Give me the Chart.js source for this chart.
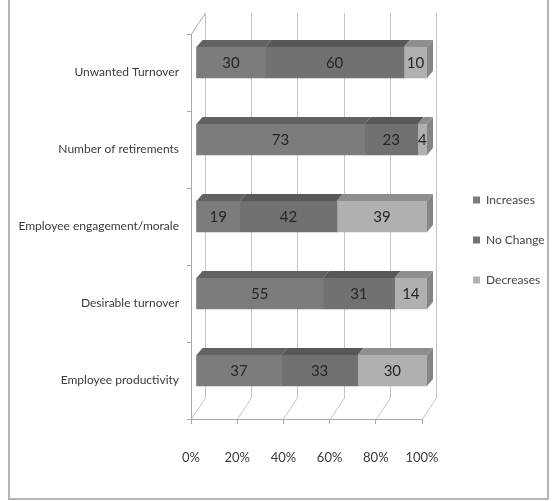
<!DOCTYPE html>
<html>
<head>
<meta charset="utf-8">
<script src="https://cdn.jsdelivr.net/npm/chart.js@4.4.1/dist/chart.umd.min.js"></script>
<style>
  html, body { margin: 0; padding: 0; background: #fff; }
  #wrap { position: relative; width: 555px; height: 501px; overflow: hidden; }
  #frame { position: absolute; left: 8px; top: -4px; width: 541px; height: 504px; border: 2px solid #b4b4b4; box-sizing: border-box; }
  #myChart { position: absolute; left: 0; top: 0; }
</style>
</head>
<body>
<div id="wrap">
  <div id="frame"></div>
  <canvas id="myChart" width="555" height="501"></canvas>
</div>
<script>
const categories = ['Unwanted Turnover', 'Number of retirements', 'Employee engagement/morale', 'Desirable turnover', 'Employee productivity'];
const seriesNames = ['Increases', 'No Change', 'Decreases'];
const increases = [30, 73, 19, 55, 37];
const noChange = [60, 23, 42, 31, 33];
const decreases = [10, 4, 39, 14, 30];
const tickValues = [0, 20, 40, 60, 80, 100];

const FONT = 'Lato, "Liberation Sans", sans-serif';

// fake 3d look
const WALL_DX = 14, WALL_DY = -21;
const BAR_DX = 5, BAR_DY = -10;
const FACE_DX = 6, FACE_DY = -7;

const shade = {
    '#7c7c7c': ['#626262', '#5a5a5a'],
    '#717171': ['#585858', '#505050'],
    '#b0b0b0': ['#8e8e8e', '#858585']
};

const LEGEND_PAD = 28, LEGEND_BOX = 7, LEGEND_FONT = 12;
const LEGEND_LEFT = 445; // legend box ends up at 445 + padding

const fakeDepth = {
    id: 'fakeDepth',
    beforeDatasetsDraw(chart) {
        const { ctx, chartArea: a, scales: { x } } = chart;
        ctx.save();
        ctx.strokeStyle = '#c4c4c4';
        ctx.lineWidth = 1;
        tickValues.forEach(v => {
            const px = Math.round(x.getPixelForValue(v)) + 0.5;
            ctx.beginPath();
            ctx.moveTo(px, a.bottom);
            ctx.lineTo(px + WALL_DX, a.bottom + WALL_DY);
            ctx.lineTo(px + WALL_DX, a.top + WALL_DY);
            ctx.stroke();
        });
        ctx.strokeStyle = '#a8a8a8';
        ctx.beginPath();
        ctx.moveTo(a.left + 0.5, a.top);
        ctx.lineTo(a.left + 0.5 + WALL_DX, a.top + WALL_DY);
        ctx.stroke();
        ctx.restore();
        ctx.save();
        ctx.translate(BAR_DX, BAR_DY);
    },
    afterDatasetsDraw(chart) {
        const { ctx } = chart;
        const n = chart.data.labels.length;
        for (let j = 0; j < n; j++) {
            let last = null;
            chart.data.datasets.forEach((ds, i) => {
                const el = chart.getDatasetMeta(i).data[j];
                if (!el || !ds.data[j]) return;
                const p = el.getProps(['x', 'y', 'base', 'height'], true);
                const top = p.y - p.height / 2;
                ctx.fillStyle = shade[ds.backgroundColor][0];
                ctx.beginPath();
                ctx.moveTo(p.base, top);
                ctx.lineTo(p.x, top);
                ctx.lineTo(p.x + FACE_DX, top + FACE_DY);
                ctx.lineTo(p.base + FACE_DX, top + FACE_DY);
                ctx.closePath();
                ctx.fill();
                last = { p, top, color: shade[ds.backgroundColor][1] };
            });
            if (last) {
                const { p, top, color } = last;
                const bot = p.y + p.height / 2;
                ctx.fillStyle = color;
                ctx.beginPath();
                ctx.moveTo(p.x, top);
                ctx.lineTo(p.x + FACE_DX, top + FACE_DY);
                ctx.lineTo(p.x + FACE_DX, bot + FACE_DY);
                ctx.lineTo(p.x, bot);
                ctx.closePath();
                ctx.fill();
            }
        }
        // value labels
        ctx.fillStyle = '#262626';
        ctx.font = '15px ' + FONT;
        ctx.textAlign = 'center';
        ctx.textBaseline = 'middle';
        chart.data.datasets.forEach((ds, i) => {
            chart.getDatasetMeta(i).data.forEach((el, j) => {
                const p = el.getProps(['x', 'y', 'base'], true);
                ctx.fillText(ds.data[j], (p.x + p.base) / 2, p.y + 1);
            });
        });
        ctx.restore();
    }
};

Chart.defaults.font.family = FONT;
Chart.defaults.color = '#3a3a3a';

const ctx = document.getElementById('myChart');
const chart = new Chart(ctx, {
    type: 'bar',
    data: {
        labels: categories,
        datasets: [
            { label: seriesNames[0], data: increases, backgroundColor: '#7c7c7c', barThickness: 31, clip: false },
            { label: seriesNames[1], data: noChange, backgroundColor: '#717171', barThickness: 31, clip: false },
            { label: seriesNames[2], data: decreases, backgroundColor: '#b0b0b0', barThickness: 31, clip: false }
        ]
    },
    options: {
        indexAxis: 'y',
        responsive: false,
        animation: false,
        layout: { padding: { left: 0, top: 0, right: 0, bottom: 21 } },
        plugins: {
            tooltip: { enabled: false },
            legend: {
                position: 'right',
                maxWidth: 400,
                labels: { boxWidth: LEGEND_BOX, boxHeight: LEGEND_BOX, padding: LEGEND_PAD, font: { size: LEGEND_FONT }, color: '#444' }
            }
        },
        scales: {
            x: {
                stacked: true,
                min: 0,
                max: 100,
                afterBuildTicks: s => { s.ticks = tickValues.map(v => ({ value: v })); },
                afterFit: s => { s.height = 61; },
                ticks: { callback: v => v + '%', padding: 26, font: { size: 13 }, maxRotation: 0, autoSkip: false },
                grid: { drawOnChartArea: false, tickLength: 5, color: '#a8a8a8' },
                border: { color: '#a8a8a8' }
            },
            y: {
                stacked: true,
                afterFit: s => { s.width = 191; },
                ticks: { padding: 8, font: { size: 12 } },
                grid: { drawOnChartArea: false, tickLength: 4, color: '#a8a8a8' },
                border: { color: '#a8a8a8' }
            },
            gapRight: {
                type: 'linear',
                position: 'right',
                ticks: { display: false },
                grid: { display: false },
                border: { display: false },
                afterFit: s => { s.width = 23; }
            },
            gapTop: {
                type: 'linear',
                position: 'top',
                ticks: { display: false },
                grid: { display: false },
                border: { display: false },
                afterFit: s => { s.height = 34; }
            }
        }
    },
    plugins: [fakeDepth]
});

// push the legend so that it starts at LEGEND_LEFT
chart.options.layout.padding.right = 555 - LEGEND_LEFT - chart.legend.width;
chart.update();
</script>
</body>
</html>
